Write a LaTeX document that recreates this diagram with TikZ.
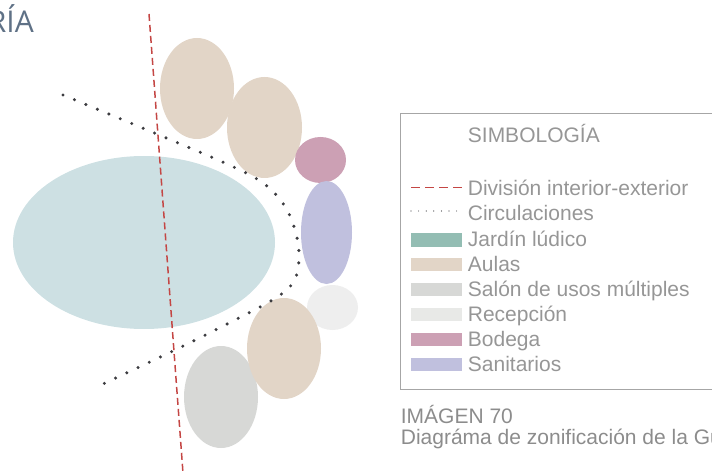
\documentclass[tikz,border=0pt]{standalone}
\usepackage{fontspec}
\setmainfont{Liberation Sans}
\newfontfamily\titlefont{Open Sans}
\usetikzlibrary{shapes.geometric}
\definecolor{jardinZone}{RGB}{205,224,227}
\definecolor{jardinKey}{RGB}{147,189,179}
\definecolor{aulaZone}{RGB}{226,213,199}
\definecolor{salonZone}{RGB}{215,216,214}
\definecolor{recepZone}{RGB}{238,238,238}
\definecolor{recepKey}{RGB}{232,233,231}
\definecolor{bodegaZone}{RGB}{204,160,180}
\definecolor{sanitZone}{RGB}{192,192,222}
\definecolor{divLine}{RGB}{196,70,68}
\definecolor{circLine}{RGB}{60,60,64}
\definecolor{keyText}{RGB}{150,150,150}
\definecolor{titleBlue}{RGB}{95,113,134}
\tikzset{
    zone/.style={ellipse,inner sep=0pt},
    key/.style={rectangle,inner sep=0pt,minimum width=51pt,minimum height=13.5pt},
    keytxt/.style={anchor=base west,inner sep=0pt,text=keyText,font=\fontsize{21}{23}\selectfont},
    division/.style={draw=divLine,line width=1.5pt,dash pattern=on 7pt off 4pt},
    circulacion/.style={draw=circLine,line width=3.4pt,line cap=round,dash pattern=on 0pt off 12.4pt},
    frame/.style={draw=black!35,line width=1pt}
}
\begin{document}
\begin{tikzpicture}[x=1pt,y=-1pt]
    \useasboundingbox (0,0) rectangle (712,473);
    \clip (0,0) rectangle (712,473);
    % heading, cut at the left edge
    \node[anchor=base east,inner sep=0pt,text=titleBlue,font=\titlefont\fontsize{30}{32}\selectfont] (head) at (34,32.7) {RÍA};
    % zones
    \node[zone,fill=jardinZone,minimum width=262pt,minimum height=173pt] (jardin) at (144,242.5) {};
    \node[zone,fill=aulaZone,minimum width=74pt,minimum height=101pt]  (aulaA)  at (197,88.5)  {};
    \node[zone,fill=aulaZone,minimum width=75pt,minimum height=101pt]  (aulaB)  at (264.5,127.5) {};
    \node[zone,fill=bodegaZone,minimum width=51pt,minimum height=46pt] (bodega) at (320.5,160) {};
    \node[zone,fill=sanitZone,minimum width=51pt,minimum height=103pt] (sanit)  at (326.5,232.5) {};
    \node[zone,fill=recepZone,minimum width=51pt,minimum height=45pt]  (recep)  at (332.5,307.5) {};
    \node[zone,fill=salonZone,minimum width=74pt,minimum height=102pt] (salon)  at (221,397)   {};
    \node[zone,fill=aulaZone,minimum width=74pt,minimum height=101pt]  (aulaC)  at (284,348.5) {};
    % circulations
    \draw[circulacion] plot[smooth,tension=0.6] coordinates {(63,95) (152,132) (227,164) (263,183) (284,205) (295,230) (299,256) (294,281) (274,299) (227,324) (177,349) (103,384)};
    % interior / exterior limit
    \coordinate (divTop) at (149,14);
    \coordinate (divBot) at (183,473);
    \draw[division] (divTop) -- (divBot);

    % legend
    \draw[frame] (400.7,114) rectangle (730,389);
    \node[keytxt] (ktitle) at (467.7,142.5) {SIMBOLOGÍA};
    \coordinate (kdivA) at (411,187.5);
    \coordinate (kdivB) at (462,187.5);
    \draw[division,line width=1.8pt,dash pattern=on 9pt off 5pt] (kdivA) -- (kdivB);
    \node[keytxt] (kdiv) at (467.7,196) {División interior-exterior};
    \coordinate (kcircA) at (411,211);
    \coordinate (kcircB) at (462,211);
    \draw[circulacion,line width=1.2pt,dash pattern=on 0pt off 7.6pt] (kcircA) -- (kcircB);
    \node[keytxt] (kcirc) at (467.7,220.5) {Circulaciones};
    \node[key,fill=jardinKey]  (kjar) at (436.2,240)   {};
    \node[keytxt]              (tjar) at (467.7,246.5) {Jardín lúdico};
    \node[key,fill=aulaZone]   (kaul) at (436.2,264.5) {};
    \node[keytxt]              (taul) at (467.7,271)   {Aulas};
    \node[key,fill=salonZone]  (ksal) at (436.2,289.5) {};
    \node[keytxt]              (tsal) at (467.7,296)   {Salón de usos múltiples};
    \node[key,fill=recepKey]   (krec) at (436.2,314.5) {};
    \node[keytxt]              (trec) at (467.7,321.5) {Recepción};
    \node[key,fill=bodegaZone] (kbod) at (436.2,339.5) {};
    \node[keytxt]              (tbod) at (467.7,346.5) {Bodega};
    \node[key,fill=sanitZone]  (ksan) at (436.2,364.5) {};
    \node[keytxt]              (tsan) at (467.7,371.5) {Sanitarios};
    % caption
    \node[keytxt,text=black!45] (capA) at (400.7,423) {IMÁGEN 70};
    \node[keytxt,text=black!45] (capB) at (400.7,444) {Diagráma de zonificación de la Guardería};
\end{tikzpicture}
\end{document}
